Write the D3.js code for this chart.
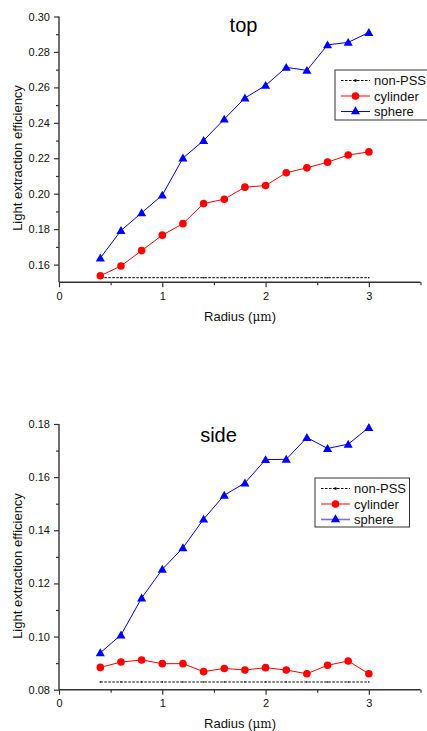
<!DOCTYPE html>
<html>
<head>
<meta charset="utf-8">
<script src="https://cdn.jsdelivr.net/npm/d3@7/dist/d3.min.js"></script>
<style>
html,body{margin:0;padding:0;background:#fff;}
svg{display:block;font-family:"Liberation Sans",Arial,sans-serif;}
</style>
</head>
<body>
<svg id="c" width="427" height="731"></svg>
<script>
// ---- data ----
const radius = [0.4,0.6,0.8,1.0,1.2,1.4,1.6,1.8,2.0,2.2,2.4,2.6,2.8,3.0];
const seriesNames = ["non-PSS","cylinder","sphere"];

const topNonPSS  = [0.1526,0.1526,0.1526,0.1526,0.1526,0.1526,0.1526,0.1526,0.1526,0.1526,0.1526,0.1526,0.1526,0.1526];
const topCylinder= [0.1537,0.1592,0.1679,0.1766,0.1831,0.1944,0.1969,0.2037,0.2046,0.2118,0.2146,0.2178,0.2218,0.2236];
const topSphere  = [0.1637,0.1792,0.1892,0.1992,0.2201,0.2300,0.2421,0.2540,0.2611,0.2713,0.2696,0.2840,0.2854,0.2910];

const sideNonPSS  = [0.0829,0.0829,0.0829,0.0829,0.0829,0.0829,0.0829,0.0829,0.0829,0.0829,0.0829,0.0829,0.0829,0.0829];
const sideCylinder= [0.0884,0.0904,0.0912,0.0898,0.0898,0.0868,0.0880,0.0874,0.0883,0.0874,0.0860,0.0892,0.0908,0.0860];
const sideSphere  = [0.0939,0.1006,0.1145,0.1253,0.1334,0.1442,0.1532,0.1578,0.1666,0.1667,0.1749,0.1708,0.1724,0.1787];

const xTicks = [0,1,2,3];
const xMinorTicks = [0.5,1.5,2.5,3.5];
const topYTicks = [0.16,0.18,0.20,0.22,0.24,0.26,0.28,0.30];
const topYMinor = [0.17,0.19,0.21,0.23,0.25,0.27,0.29];
const sideYTicks = [0.08,0.10,0.12,0.14,0.16,0.18];
const sideYMinor = [0.09,0.11,0.13,0.15,0.17];

const titles = ["top","side"];
const xLabel = "Radius (";
const yLabel = "Light extraction efficiency";

// ---- drawing ----
const svg = d3.select("#c");
const axisColor = "#333";

function panel(cfg){
  const g = svg.append("g");
  const x = d3.scaleLinear().domain([0,3.5]).range([59,420.5]);
  const y = d3.scaleLinear().domain(cfg.yDomain).range(cfg.yRange);
  const x0 = cfg.yRange[0];

  // axes
  const xa = g.append("g").attr("transform",`translate(0,${x0})`)
    .call(d3.axisBottom(x).tickValues(xTicks).tickFormat(d3.format("d")).tickSize(5).tickPadding(4));
  g.append("g").attr("transform",`translate(0,${x0})`)
    .call(d3.axisBottom(x).tickValues(xMinorTicks).tickFormat("").tickSize(3))
    .select(".domain").remove();
  const ya = g.append("g").attr("transform",`translate(59,0)`)
    .call(d3.axisLeft(y).tickValues(cfg.yTicks).tickFormat(d3.format(".2f")).tickSize(5).tickPadding(4));
  g.append("g").attr("transform",`translate(59,0)`)
    .call(d3.axisLeft(y).tickValues(cfg.yMinor).tickFormat("").tickSize(3))
    .select(".domain").remove();
  g.selectAll(".domain").attr("stroke",axisColor).attr("stroke-width",1.4)
    .attr("d", function(){ return d3.select(this).attr("d").replace(/M[^H V]*/, m=>m).replace(/V-?6/,'').replace(/H-?6/,''); });
  g.selectAll(".tick line").attr("stroke",axisColor).attr("stroke-width",1.2);
  g.selectAll(".tick text").attr("fill","#111").style("font-size","11px").style("font-family","Liberation Sans, Arial, sans-serif");
  xa.selectAll(".tick text").attr("dy",null).attr("y",17.5);

  // redraw clean axis lines
  g.selectAll(".domain").remove();
  g.append("line").attr("x1",x(0)).attr("x2",x(3.5)).attr("y1",x0).attr("y2",x0).attr("stroke",axisColor).attr("stroke-width",1.4);
  g.append("line").attr("x1",59).attr("x2",59).attr("y1",x0).attr("y2",y(cfg.yDomain[1])).attr("stroke",axisColor).attr("stroke-width",1.4);

  // labels
  g.append("text").attr("x",240).attr("y",x0+38.5).attr("text-anchor","middle")
    .style("font-size","13px").attr("fill","#111")
    .call(t=>{ t.append("tspan").text(xLabel);
               t.append("tspan").style("font-family","DejaVu Serif, Liberation Serif, serif").style("font-size","12px").text("\u03BCm");
               t.append("tspan").text(")"); });
  g.append("text").attr("transform",`translate(22,${cfg.yLabelCenter}) rotate(-90)`)
    .attr("text-anchor","middle").style("font-size","13px").attr("fill","#111").text(yLabel);
  g.append("text").attr("x",cfg.titleX).attr("y",cfg.titleY).attr("text-anchor","middle")
    .style("font-size","20px").attr("fill","#000").text(cfg.title);

  // series
  const line = d3.line().x((d,i)=>x(radius[i])).y(d=>y(d));
  // non-PSS
  g.append("path").datum(cfg.non).attr("d",line).attr("fill","none").attr("stroke","#000")
    .attr("stroke-width",1).attr("stroke-dasharray","2.5,1.5");
  g.selectAll(".np").data(cfg.non).join("circle").attr("cx",(d,i)=>x(radius[i])).attr("cy",d=>y(d)).attr("r",0.8).attr("fill","#000");
  // cylinder
  g.append("path").datum(cfg.cyl).attr("d",line).attr("fill","none").attr("stroke","#ff0000").attr("stroke-width",1);
  g.selectAll(".cy").data(cfg.cyl).join("circle").attr("cx",(d,i)=>x(radius[i])).attr("cy",d=>y(d)).attr("r",3.8).attr("fill","#ff0000");
  // sphere
  const tri = d3.symbol().type(d3.symbolTriangle).size(36);
  g.append("path").datum(cfg.sph).attr("d",line).attr("fill","none").attr("stroke","#0000ff").attr("stroke-width",1);
  g.selectAll(".sp").data(cfg.sph).join("path").attr("d",tri)
    .attr("transform",(d,i)=>`translate(${x(radius[i])},${y(d)+0.8})`).attr("fill","#0000ff");

  // legend
  const L = cfg.legend;
  const lg = g.append("g");
  lg.append("rect").attr("x",L.x).attr("y",L.y).attr("width",L.w).attr("height",L.h)
    .attr("fill","#fff").attr("stroke","#333").attr("stroke-width",1);
  const rows = [L.y+10.5, L.y+26, L.y+41.5];
  const lx1 = L.x+6, lx2 = L.x+35, lm = (lx1+lx2)/2;
  // non-PSS
  lg.append("line").attr("x1",lx1).attr("x2",lx2).attr("y1",rows[0]).attr("y2",rows[0]).attr("stroke","#000").attr("stroke-dasharray","2.5,1.5");
  lg.append("circle").attr("cx",lm).attr("cy",rows[0]).attr("r",1.3).attr("fill","#000");
  lg.append("line").attr("x1",lx1).attr("x2",lx2).attr("y1",rows[1]).attr("y2",rows[1]).attr("stroke","#ff0000");
  lg.append("circle").attr("cx",lm).attr("cy",rows[1]).attr("r",3.8).attr("fill","#ff0000");
  lg.append("line").attr("x1",lx1).attr("x2",lx2).attr("y1",rows[2]).attr("y2",rows[2]).attr("stroke",cfg.legendSphereLine).attr("stroke-width",cfg.legendSphereW);
  lg.append("path").attr("d",tri).attr("transform",`translate(${lm},${rows[2]})`).attr("fill","#0000ff");
  seriesNames.forEach((n,i)=>{
    lg.append("text").attr("x",L.x+39).attr("y",rows[i]+4.5).style("font-size","13px").attr("fill","#111").text(n);
  });
}

panel({
  yDomain:[0.15,0.30], yRange:[282.3,16.5], yTicks:topYTicks, yMinor:topYMinor,
  non:topNonPSS, cyl:topCylinder, sph:topSphere,
  title:titles[0], titleX:243.5, titleY:32, yLabelCenter:158,
  legend:{x:335,y:70,w:95,h:50}, legendSphereLine:"#0000ff", legendSphereW:1
});
panel({
  yDomain:[0.08,0.18], yRange:[689.7,424], yTicks:sideYTicks, yMinor:sideYMinor,
  non:sideNonPSS, cyl:sideCylinder, sph:sideSphere,
  title:titles[1], titleX:218.5, titleY:441.5, yLabelCenter:566,
  legend:{x:315,y:478,w:94.5,h:49}, legendSphereLine:"#7070ff", legendSphereW:1.6
});
</script>
</body>
</html>
